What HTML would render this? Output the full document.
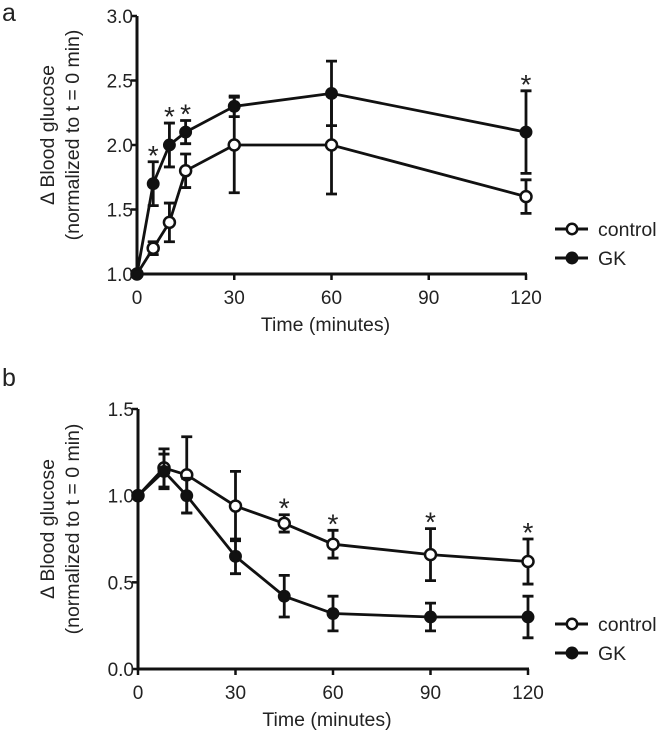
<!DOCTYPE html>
<html><head><meta charset="utf-8"><style>
html,body{margin:0;padding:0;background:#fff;}
svg{display:block;font-family:"Liberation Sans",sans-serif;}
text{fill:#222;}
</style></head><body>
<svg id="chart" width="665" height="732" viewBox="0 0 665 732" xmlns="http://www.w3.org/2000/svg"></svg>
<script>
// Panel a data
const aTimes = [0, 5, 10, 15, 30, 60, 120];
const aControl = [1.0, 1.2, 1.4, 1.8, 2.0, 2.0, 1.6];
const aControlErr = [0.0, 0.05, 0.15, 0.13, 0.37, 0.38, 0.13];
const aGK = [1.0, 1.7, 2.0, 2.1, 2.3, 2.4, 2.1];
const aGKErr = [0.0, 0.17, 0.17, 0.09, 0.08, 0.25, 0.32];
const aStarTimes = [5, 10, 15, 120];
const aStarValues = [1.87, 2.17, 2.19, 2.42];
const aYTicks = [1.0, 1.5, 2.0, 2.5, 3.0];
const xTicks = [0, 30, 60, 90, 120];
// Panel b data
const bTimes = [0, 8, 15, 30, 45, 60, 90, 120];
const bControl = [1.0, 1.16, 1.12, 0.94, 0.84, 0.72, 0.66, 0.62];
const bControlErr = [0.0, 0.11, 0.22, 0.2, 0.05, 0.08, 0.15, 0.13];
const bGK = [1.0, 1.14, 1.0, 0.65, 0.42, 0.32, 0.3, 0.3];
const bGKErr = [0.0, 0.1, 0.1, 0.1, 0.12, 0.1, 0.08, 0.12];
const bStarTimes = [45, 60, 90, 120];
const bStarValues = [0.89, 0.8, 0.81, 0.75];
const bYTicks = [0.0, 0.5, 1.0, 1.5];

const NS = "http://www.w3.org/2000/svg";
const svg = document.getElementById('chart');
function el(tag, attrs, parent, txt){
  const e = document.createElementNS(NS, tag);
  for (const k in attrs) e.setAttribute(k, attrs[k]);
  if (txt !== undefined) e.textContent = txt;
  (parent || svg).appendChild(e);
  return e;
}

function panel(cfg){
  const g = el('g', {});
  
  
  const xs = t => cfg.x0 + (t - 0) / 120 * (cfg.x1 - cfg.x0);
  const ys = v => cfg.yb + (v - cfg.ymin) / (cfg.ymax - cfg.ymin) * (cfg.yt - cfg.yb);
  const lbl = el('text', {x: 2, y: cfg.labY, 'font-size': 25}, g, cfg.letter);
  
  
  const yax = el('line', {x1: cfg.x0, x2: cfg.x0, y1: ys(cfg.ymax), y2: cfg.yb, stroke: '#111', 'stroke-width': 3}, g);
  
  
  const xax = el('line', {x1: cfg.x0 - 1.5, x2: cfg.x1 + 1, y1: cfg.yb, y2: cfg.yb, stroke: '#111', 'stroke-width': 3}, g);
  
  
  cfg.yTicks.forEach(v => {
    const y = ys(v);
    el('line', {x1: cfg.x0 - 6, x2: cfg.x0, y1: y, y2: y, stroke: '#111', 'stroke-width': 2.5}, g);
    const t = el('text', {x: cfg.x0 - 4, y: y + 7, 'font-size': 19, 'text-anchor': 'end'}, g, v.toFixed(1));
    
    
  });
  xTicks.forEach(v => {
    const x = xs(v);
    el('line', {x1: x, x2: x, y1: cfg.yb, y2: cfg.yb + 6, stroke: '#111', 'stroke-width': 2.5}, g);
    const t = el('text', {x: x, y: cfg.yb + 30, 'font-size': 19, 'text-anchor': 'middle'}, g, String(v));
    
    
  });
  const xt = el('text', {x: (cfg.x0 + cfg.x1) / 2 - 6, y: cfg.yb + 57, 'font-size': 19.5, 'text-anchor': 'middle'}, g, cfg.xTitle);
  
  
  const cy = (ys(cfg.ymax) + cfg.yb) / 2 - 10;
  const yt = el('text', {transform: `translate(54,${cy}) rotate(-90)`, 'font-size': 19.5, 'text-anchor': 'middle'}, g, 'Δ Blood glucose');
  
  
  const yt2 = el('text', {transform: `translate(79,${cy}) rotate(-90)`, 'font-size': 19.5, 'text-anchor': 'middle'}, g, '(normalized to t = 0 min)');
  
  

  function series(name, vals, errs, filled){
    const sg = el('g', {}, g);
    
    
    vals.forEach((v, i) => {
      if (errs[i] <= 0) return;
      const x = xs(cfg.times[i]);
      const y1 = ys(v + errs[i]), y2 = ys(v - errs[i]);
      const eb = el('path', {d: `M${x},${y1}V${y2}M${x-5.5},${y1}H${x+5.5}M${x-5.5},${y2}H${x+5.5}`, stroke: '#111', 'stroke-width': 2.8, fill: 'none'}, sg);
      
      
    });
    const d = vals.map((v, i) => (i ? 'L' : 'M') + xs(cfg.times[i]) + ',' + ys(v)).join('');
    const ln = el('path', {d: d, stroke: '#111', 'stroke-width': 2.8, fill: 'none'}, sg);
    
    
    vals.forEach((v, i) => {
      const c = el('circle', {cx: xs(cfg.times[i]), cy: ys(v), r: filled ? 5.2 : 5.5, fill: filled ? '#111' : '#fff', stroke: '#111', 'stroke-width': 2.5}, sg);
      
      
    });
  }
  series('control-series', cfg.control, cfg.controlErr, false);
  series('gk-series', cfg.gk, cfg.gkErr, true);
  cfg.starT.forEach((t, i) => {
    const s = el('text', {x: xs(t), y: ys(cfg.starV[i]) + 3, 'font-size': 28, 'text-anchor': 'middle'}, g, '*');
    
    
  });
  [['control', false, cfg.legY], ['GK', true, cfg.legY + 29]].forEach(([n, f, y]) => {
    const lg = el('g', {}, g);
    
    
    el('line', {x1: 555, x2: 588, y1: y, y2: y, stroke: '#111', 'stroke-width': 3}, lg);
    el('circle', {cx: 572, cy: y, r: 5.2, fill: f ? '#111' : '#fff', stroke: '#111', 'stroke-width': 2.5}, lg);
    el('text', {x: 598, y: y + 7, 'font-size': 19.5}, lg, n);
  });
}

panel({name: 'panel-a', letter: 'a', labY: 21, x0: 137, x1: 526, yb: 274, yt: 16, ymin: 1.0, ymax: 3.0,
  yTicks: aYTicks, times: aTimes, control: aControl, controlErr: aControlErr, gk: aGK, gkErr: aGKErr,
  starT: aStarTimes, starV: aStarValues, legY: 229, xTitle: 'Time (minutes)'});
panel({name: 'panel-b', letter: 'b', labY: 386, x0: 138, x1: 528, yb: 669, yt: 409, ymin: 0.0, ymax: 1.5,
  yTicks: bYTicks, times: bTimes, control: bControl, controlErr: bControlErr, gk: bGK, gkErr: bGKErr,
  starT: bStarTimes, starV: bStarValues, legY: 624, xTitle: 'Time  (minutes)'});
</script>
</body></html>
